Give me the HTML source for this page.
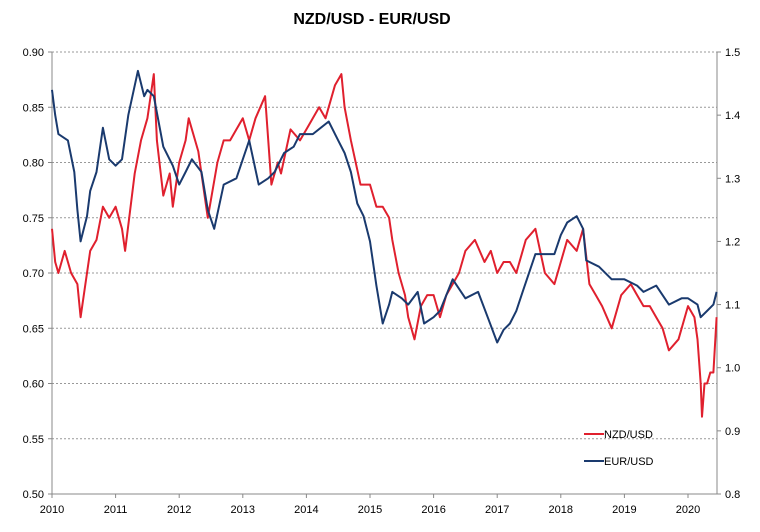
<!DOCTYPE html>
<html><head><meta charset="utf-8"><style>
body{margin:0;background:#fff;font-family:"Liberation Sans",sans-serif}
svg text{font-family:"Liberation Sans",sans-serif}
</style></head><body>
<svg id="chart" width="760" height="527" viewBox="0 0 760 527" xmlns="http://www.w3.org/2000/svg">
<text x="372" y="24" text-anchor="middle" font-size="16" font-weight="bold" fill="#000">NZD/USD - EUR/USD</text>
<g id="grid"></g>
<g id="axes"></g>
<g id="series"></g>
<g>
<g><line x1="584" y1="434" x2="604" y2="434" stroke="#e0202e" stroke-width="2"/><text x="604" y="438" font-size="11" fill="#000">NZD/USD</text></g>
<g><line x1="584" y1="461" x2="604" y2="461" stroke="#1a3a6e" stroke-width="2"/><text x="604" y="465" font-size="11" fill="#000">EUR/USD</text></g>
</g>
</svg>
<script>
const years=[2010,2011,2012,2013,2014,2015,2016,2017,2018,2019,2020];
const leftTicks=[0.50,0.55,0.60,0.65,0.70,0.75,0.80,0.85,0.90];
const rightTicks=[0.8,0.9,1.0,1.1,1.2,1.3,1.4,1.5];
const nzdT=[2010.0,2010.05,2010.1,2010.2,2010.3,2010.4,2010.45,2010.5,2010.6,2010.7,2010.8,2010.9,2011.0,2011.1,2011.15,2011.3,2011.4,2011.5,2011.6,2011.65,2011.75,2011.85,2011.9,2012.0,2012.1,2012.15,2012.3,2012.4,2012.45,2012.6,2012.7,2012.8,2012.9,2013.0,2013.1,2013.2,2013.35,2013.45,2013.55,2013.6,2013.75,2013.9,2014.0,2014.1,2014.2,2014.3,2014.45,2014.55,2014.6,2014.7,2014.85,2015.0,2015.1,2015.2,2015.3,2015.35,2015.45,2015.55,2015.6,2015.7,2015.8,2015.9,2016.0,2016.1,2016.2,2016.3,2016.4,2016.5,2016.65,2016.8,2016.9,2017.0,2017.1,2017.2,2017.3,2017.45,2017.6,2017.75,2017.9,2018.0,2018.1,2018.25,2018.35,2018.45,2018.55,2018.65,2018.8,2018.95,2019.1,2019.2,2019.3,2019.4,2019.5,2019.6,2019.7,2019.85,2020.0,2020.1,2020.15,2020.2,2020.22,2020.26,2020.3,2020.35,2020.4,2020.45];
const nzdV=[0.74,0.71,0.70,0.72,0.70,0.69,0.66,0.68,0.72,0.73,0.76,0.75,0.76,0.74,0.72,0.79,0.82,0.84,0.88,0.82,0.77,0.79,0.76,0.80,0.82,0.84,0.81,0.77,0.75,0.80,0.82,0.82,0.83,0.84,0.82,0.84,0.86,0.78,0.80,0.79,0.83,0.82,0.83,0.84,0.85,0.84,0.87,0.88,0.85,0.82,0.78,0.78,0.76,0.76,0.75,0.73,0.70,0.68,0.66,0.64,0.67,0.68,0.68,0.66,0.68,0.69,0.70,0.72,0.73,0.71,0.72,0.70,0.71,0.71,0.70,0.73,0.74,0.70,0.69,0.71,0.73,0.72,0.74,0.69,0.68,0.67,0.65,0.68,0.69,0.68,0.67,0.67,0.66,0.65,0.63,0.64,0.67,0.66,0.64,0.60,0.57,0.60,0.60,0.61,0.61,0.66];
const eurT=[2010.0,2010.05,2010.1,2010.25,2010.35,2010.4,2010.45,2010.55,2010.6,2010.7,2010.8,2010.9,2011.0,2011.1,2011.2,2011.35,2011.45,2011.5,2011.6,2011.75,2011.9,2012.0,2012.1,2012.2,2012.35,2012.45,2012.55,2012.7,2012.9,2013.0,2013.1,2013.25,2013.4,2013.5,2013.65,2013.8,2013.9,2014.1,2014.35,2014.5,2014.6,2014.7,2014.8,2014.9,2015.0,2015.1,2015.2,2015.3,2015.35,2015.5,2015.6,2015.75,2015.85,2016.0,2016.1,2016.3,2016.5,2016.7,2016.85,2017.0,2017.1,2017.2,2017.3,2017.4,2017.6,2017.75,2017.9,2018.0,2018.1,2018.25,2018.35,2018.4,2018.6,2018.8,2019.0,2019.2,2019.3,2019.5,2019.7,2019.9,2020.0,2020.15,2020.2,2020.3,2020.4,2020.45];
const eurV=[1.44,1.40,1.37,1.36,1.31,1.25,1.20,1.24,1.28,1.31,1.38,1.33,1.32,1.33,1.40,1.47,1.43,1.44,1.43,1.35,1.32,1.29,1.31,1.33,1.31,1.25,1.22,1.29,1.30,1.33,1.36,1.29,1.30,1.31,1.34,1.35,1.37,1.37,1.39,1.36,1.34,1.31,1.26,1.24,1.20,1.13,1.07,1.10,1.12,1.11,1.10,1.12,1.07,1.08,1.09,1.14,1.11,1.12,1.08,1.04,1.06,1.07,1.09,1.12,1.18,1.18,1.18,1.21,1.23,1.24,1.22,1.17,1.16,1.14,1.14,1.13,1.12,1.13,1.10,1.11,1.11,1.10,1.08,1.09,1.10,1.12];
const L=52,R=717,T=52,B=494;
const xs=y=>L+(y-2010)*63.6;
const yl=v=>B-(v-0.5)/0.4*(B-T);
const yr=v=>B-(v-0.8)/0.7*(B-T);
const NS="http://www.w3.org/2000/svg";
function mk(tag,attrs,parent){const e=document.createElementNS(NS,tag);for(const k in attrs)e.setAttribute(k,attrs[k]);parent.appendChild(e);return e;}
const grid=document.getElementById('grid'),axes=document.getElementById('axes'),ser=document.getElementById('series');
leftTicks.forEach(v=>{
 if(v>0.5){const g=mk('line',{x1:L,x2:R,y1:yl(v),y2:yl(v),stroke:'#999','stroke-dasharray':'2,2','stroke-width':1},grid);
 
 }
 mk('line',{x1:L-4,x2:L,y1:yl(v),y2:yl(v),stroke:'#888'},axes);
 const t=mk('text',{x:L-8,y:yl(v)+4,'text-anchor':'end','font-size':11},axes);t.textContent=v.toFixed(2);
 
 
});
rightTicks.forEach(v=>{
 mk('line',{x1:R,x2:R+4,y1:yr(v),y2:yr(v),stroke:'#888'},axes);
 const t=mk('text',{x:R+8,y:yr(v)+4,'font-size':11},axes);t.textContent=v.toFixed(1);
 
 
});
years.forEach(y=>{
 mk('line',{x1:xs(y),x2:xs(y),y1:B,y2:B+4,stroke:'#888'},axes);
 const t=mk('text',{x:xs(y),y:B+19,'text-anchor':'middle','font-size':11},axes);t.textContent=y;
 
 
});
mk('line',{x1:L,x2:L,y1:T,y2:B,stroke:'#888'},axes);
mk('line',{x1:R,x2:R,y1:T,y2:B,stroke:'#888'},axes);
mk('line',{x1:L,x2:R,y1:B,y2:B,stroke:'#888'},axes);
function line(ts,vs,fy,color,name){
 const d=ts.map((t,i)=>(i?'L':'M')+xs(t).toFixed(1)+','+fy(vs[i]).toFixed(1)).join('');
 const p=mk('path',{d:d,fill:'none',stroke:color,'stroke-width':2,'stroke-linejoin':'round'},ser);
 
 
}
line(nzdT,nzdV,yl,'#e0202e','nzd-usd-line');
line(eurT,eurV,yr,'#1a3a6e','eur-usd-line');
</script>
</body></html>
